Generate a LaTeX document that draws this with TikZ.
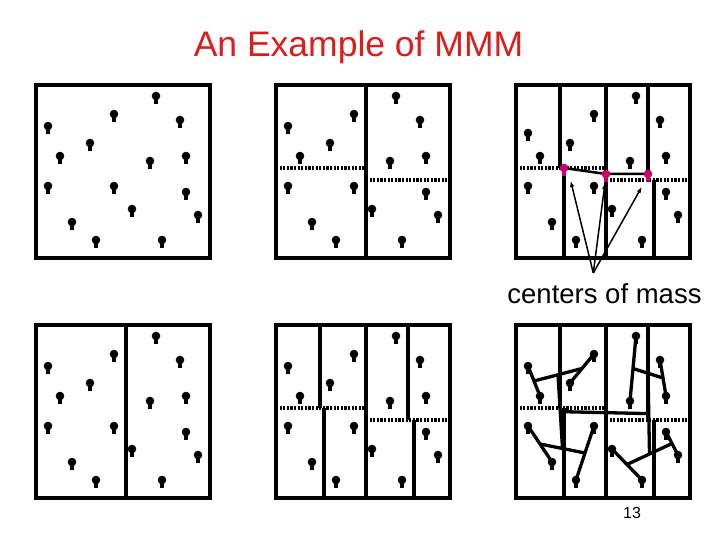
\documentclass[tikz,border=0pt]{standalone}
\usepackage{fontspec}
\setmainfont{Liberation Sans}
\usetikzlibrary{arrows.meta,calc}
\definecolor{heading}{HTML}{DD1C1C}
\definecolor{mass}{HTML}{CC0066}

% particle positions, shared by all six panels
\newcommand{\particles}{156/96, 114/114, 180/120, 48/126, 90/143, 60/156, 150/161, 186/156,
  48/186, 114/186, 186/192, 132/209, 198/215, 72/222, 96/240, 162/240}
\newcommand{\particlesalt}{156/96, 114/114, 180/120, 48/133, 90/143, 60/156, 150/161, 186/156,
  48/186, 114/186, 186/192, 132/209, 198/215, 72/222, 96/240, 162/240}

\tikzset{
  pics/particle/.style={code={
    \fill (0,0) circle (4.3pt);
    \fill (-2,0) rectangle (2,8);
  }},
}

\begin{document}
\begin{tikzpicture}[
  x=1pt, y=-1pt,
  frame/.style={line width=3.5pt},
  cut/.style={line width=3.5pt, dash pattern=on 2.2pt off 1.4pt},
  link/.style={line width=3.3pt},
  ptr/.style={-{Latex[length=6pt,width=4.5pt]}, line width=1.5pt},
]
  \useasboundingbox (0,0) rectangle (720,540);

  \node[font=\fontsize{35.5}{42}\selectfont, text=heading] (title) at (358.5,47) {An Example of MMM};

  % panel 1: all particles
  \begin{scope}
    \foreach \x/\y in \particles {\pic at (\x,\y) {particle};}
    \draw[frame] (36,85) rectangle (210,258);
  \end{scope}

  % panel 2: two levels of cuts
  \begin{scope}[shift={(240,0)}]
    \draw[cut] (36,168) -- (126,168);
    \draw[cut] (126,180) -- (210,180);
    \draw[frame] (126,85) -- (126,258);
    \foreach \x/\y in \particles {\pic at (\x,\y) {particle};}
    \draw[frame] (36,85) rectangle (210,258);
  \end{scope}

  % panel 3: three levels, centers of mass
  \begin{scope}[shift={(480,0)}]
    \draw[cut] (36,168) -- (126,168);
    \draw[cut] (126,180) -- (210,180);
    \draw[frame] (126,85) -- (126,258);
    \draw[frame] (80,85) -- (80,168);
    \draw[frame] (84,168) -- (84,258);
    \draw[frame] (168,85) -- (168,180);
    \draw[frame] (174,180) -- (174,258);
    \foreach \x/\y in \particlesalt {\pic at (\x,\y) {particle};}
    \draw[frame] (36,85) rectangle (210,258);

    \coordinate (m1) at (84,168);
    \coordinate (m2) at (126,174);
    \coordinate (m3) at (168,174);
    \draw[line width=2.5pt] (m1) -- (m2) -- (m3);
    \foreach \m in {m1,m2,m3} {\pic[color=mass] at (\m) {particle};}

    \node[font=\fontsize{27.5}{32}\selectfont] (com) at (124.5,294) {centers of mass};
    \coordinate (apex) at (113.3,273);
    \coordinate (tip1) at (90.7,181);
    \coordinate (tip2) at (125,183);
    \coordinate (tip3) at (161.7,187);
    \foreach \t in {tip1,tip2,tip3} {\draw[ptr] (apex) -- (\t);}
  \end{scope}

  % panel 4: one cut
  \begin{scope}[shift={(0,240)}]
    \draw[frame] (126,85) -- (126,258);
    \foreach \x/\y in \particles {\pic at (\x,\y) {particle};}
    \draw[frame] (36,85) rectangle (210,258);
  \end{scope}

  % panel 5: three levels of cuts
  \begin{scope}[shift={(240,240)}]
    \draw[cut] (36,168) -- (126,168);
    \draw[cut] (126,180) -- (210,180);
    \draw[frame] (126,85) -- (126,258);
    \draw[frame] (80,85) -- (80,168);
    \draw[frame] (84,168) -- (84,258);
    \draw[frame] (168,85) -- (168,180);
    \draw[frame] (174,180) -- (174,258);
    \foreach \x/\y in \particles {\pic at (\x,\y) {particle};}
    \draw[frame] (36,85) rectangle (210,258);
  \end{scope}

  % panel 6: tree of centers of mass
  \begin{scope}[shift={(480,240)}]
    \draw[cut] (36,168) -- (126,168);
    \draw[cut] (126,180) -- (210,180);
    \draw[frame] (126,85) -- (126,258);
    \draw[frame] (80,85) -- (80,168);
    \draw[frame] (84,168) -- (84,258);
    \draw[frame] (168,85) -- (168,180);
    \draw[frame] (174,180) -- (174,258);
    \foreach \x/\y [count=\i] in \particles {
      \coordinate (p\i) at (\x,\y);
      \pic at (\x,\y) {particle};
    }
    \draw[frame] (36,85) rectangle (210,258);

    % pairs within each cell
    \foreach \a/\b/\c in {4/6/a, 2/5/b, 9/14/c, 10/15/d, 1/7/e, 3/8/f, 12/16/g, 11/13/h} {
      \draw[link] (p\a) -- (p\b);
      \coordinate (c\c) at ($(p\a)!0.5!(p\b)$);
    }
    % merge upwards
    \foreach \a/\b in {a/b, c/d, e/f, g/h} {
      \draw[link] (c\a) -- (c\b);
      \coordinate (c\a\b) at ($(c\a)!0.5!(c\b)$);
    }
    \draw[link] (cab) -- (ccd);
    \draw[link] (cef) -- (cgh);
    \coordinate (cleft) at ($(cab)!0.5!(ccd)$);
    \coordinate (cright) at ($(cef)!0.5!(cgh)$);
    \draw[link] (cleft) -- (cright);
  \end{scope}

  \node[font=\fontsize{16}{19}\selectfont] (page) at (632,513) {13};
\end{tikzpicture}
\end{document}
